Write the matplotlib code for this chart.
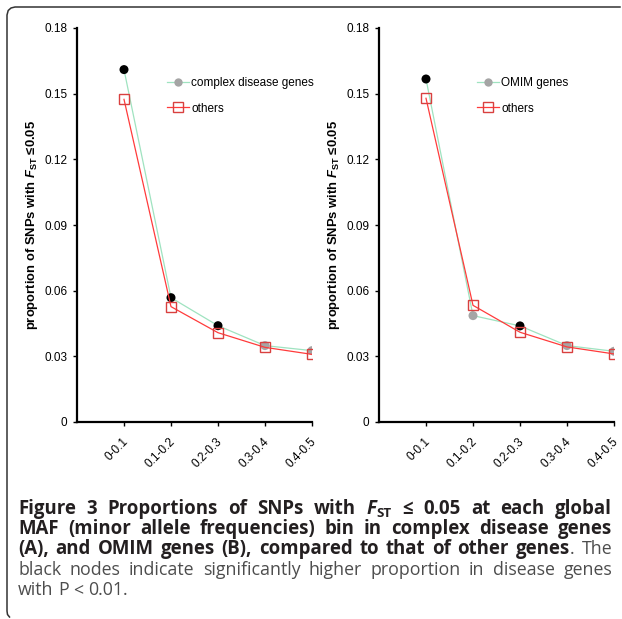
import numpy as np
import matplotlib
matplotlib.use('Agg')
import matplotlib.pyplot as plt
from matplotlib.lines import Line2D
from matplotlib.transforms import ScaledTranslation

# Data
maf_bins = ['0-0.1', '0.1-0.2', '0.2-0.3', '0.3-0.4', '0.4-0.5']

complex_vals = [0.161, 0.0568, 0.0440, 0.0349, 0.0326]
complex_others = [0.1474, 0.0527, 0.0408, 0.0341, 0.0309]
complex_sig = [True, True, True, False, False]

omim_vals = [0.1567, 0.0486, 0.0439, 0.0349, 0.0323]
omim_others = [0.1479, 0.0533, 0.0410, 0.0343, 0.0311]
omim_sig = [True, False, True, False, False]

y_ticks = [0, 0.03, 0.06, 0.09, 0.12, 0.15, 0.18]

W, H = 622, 619
DPI = 100

plt.rcParams['font.family'] = ['Liberation Sans', 'DejaVu Sans']
plt.rcParams['mathtext.fontset'] = 'custom'
plt.rcParams['mathtext.rm'] = 'Liberation Sans:bold'
plt.rcParams['mathtext.it'] = 'Liberation Sans:italic:bold'
plt.rcParams['mathtext.bf'] = 'Liberation Sans:bold'

GREEN = '#9fe3c0'
RED = '#ff3b3b'
SQ_EDGE = '#d9403f'
GREY = '#a5a5a5'


def px_box(x0, y0, x1, y1):
    # pixel box (top-left origin) -> figure fraction rect
    return [x0 / W, 1 - y1 / H, (x1 - x0) / W, (y1 - y0) / H]


def draw_panel(ax, vals, others, sig, name, legend_xy):
    x = np.arange(1, len(maf_bins) + 1)
    ax.plot(x, vals, color=GREEN, lw=0.9, zorder=2)
    ax.scatter(x, vals, s=42, c=['black' if s else GREY for s in sig],
               edgecolors='none', zorder=3)
    ax.plot(x, others, color=RED, lw=0.9, marker='s', ms=6.5,
            mfc='none', mec=SQ_EDGE, mew=1.0, zorder=4)

    ax.set_xlim(0, 5)
    ax.set_ylim(0, 0.18)
    ax.set_yticks(y_ticks)
    ax.set_yticklabels(['0' if v == 0 else f'{v:.2f}' for v in y_ticks])
    ax.set_xticks(x)
    ax.set_xticklabels([])
    # rotated category labels, shifted a little right of the tick like the original
    off = ax.get_xaxis_transform() + ScaledTranslation(0.07, -0.14, ax.figure.dpi_scale_trans)
    for xi, lab in zip(x, maf_bins):
        ax.text(xi, 0, lab, rotation=45, ha='right', va='top', fontsize=8.5,
                transform=off, clip_on=False)

    for side in ['top', 'right']:
        ax.spines[side].set_visible(False)
    for side in ['left', 'bottom']:
        ax.spines[side].set_linewidth(1.6)
    ax.tick_params(direction='out', length=3, width=1, labelsize=8.5, pad=4)
    ax.set_ylabel('proportion of SNPs with $F_{\\mathrm{ST}}$ \u22640.05',
                  fontsize=9.4, fontweight='bold', labelpad=3)

    h1 = Line2D([], [], color=GREEN, lw=0.9, marker='o', ms=6, mfc=GREY, mec='none')
    h2 = Line2D([], [], color=RED, lw=0.9, marker='s', ms=6.5, mfc='none', mec=SQ_EDGE)
    ax.legend([h1, h2], [name, 'others'], loc='upper left',
              bbox_to_anchor=(legend_xy[0] / W, 1 - legend_xy[1] / H),
              bbox_transform=ax.figure.transFigure, frameon=False,
              fontsize=8.5, handlelength=1.9, handletextpad=0.15,
              labelspacing=1.15, borderpad=0, borderaxespad=0)


fig = plt.figure(figsize=(W / DPI, H / DPI), dpi=DPI)

ax1 = fig.add_axes(px_box(77, 28, 312, 422))
ax2 = fig.add_axes(px_box(379, 28, 614, 422))
draw_panel(ax1, complex_vals, complex_others, complex_sig, 'complex disease genes', (167, 77))
draw_panel(ax2, omim_vals, omim_others, omim_sig, 'OMIM genes', (477, 77))

# Rounded frame around the figure (top and left edges)
fx = [620, 15, 11, 8.2, 7, 7, 7.5, 9.5]
fy = [7, 7, 8, 10.5, 15, 611, 614.5, 617]
fig.add_artist(Line2D([v / W for v in fx], [1 - v / H for v in fy],
                      color='#333333', lw=1.1, transform=fig.transFigure))

# Caption: justified block, words placed one by one so bold / normal parts share lines
renderer = fig.canvas.get_renderer()
CAP_FAM = ['Open Sans', 'DejaVu Sans']
BOLD = dict(family=CAP_FAM, fontsize=13.4, fontweight='bold', color='#231f20')
NORM = dict(family=CAP_FAM, fontsize=12.8, fontweight='normal', color='#4d4d4d')
BITAL = dict(BOLD, style='italic')
SUB = dict(BOLD, fontsize=13.4 * 0.72)


def text_w(s, props):
    t = fig.text(0, 0, s, **props)
    w = t.get_window_extent(renderer).width
    t.remove()
    return w


def words_of(s, props):
    return [[(w, props, 0)] for w in s.split(' ')]


def draw_line(words, y_px, x0, x1, justify):
    widths = [sum(text_w(t, p) for t, p, _ in wd) for wd in words]
    gap = text_w('a a', NORM) - text_w('aa', NORM)
    if justify and len(words) > 1:
        gap = max(gap * 0.6, (x1 - x0 - sum(widths)) / (len(words) - 1))
    x = x0
    for wd, w in zip(words, widths):
        xx = x
        for t, p, dy in wd:
            fig.text(xx / W, 1 - (y_px + dy) / H, t, va='baseline', ha='left', **p)
            xx += text_w(t, p)
        x += w + gap


cap_lines = [
    words_of('Figure 3 Proportions of SNPs with', BOLD)
    + [[('F', BITAL, 0), ('ST', SUB, 3)]]
    + words_of('\u2264 0.05 at each global', BOLD),
    words_of('MAF (minor allele frequencies) bin in complex disease genes', BOLD),
    words_of('(A), and OMIM genes (B), compared to that of other', BOLD)
    + [[('genes', BOLD, 0), ('.', NORM, 0)], [('The', NORM, 0)]],
    words_of('black nodes indicate significantly higher proportion in disease genes', NORM),
    words_of('with P < 0.01.', NORM),
]
for i, words in enumerate(cap_lines):
    draw_line(words, 514 + i * 20.2, 18, 612, justify=(i < len(cap_lines) - 1))

fig.savefig('out.png', dpi=DPI)
